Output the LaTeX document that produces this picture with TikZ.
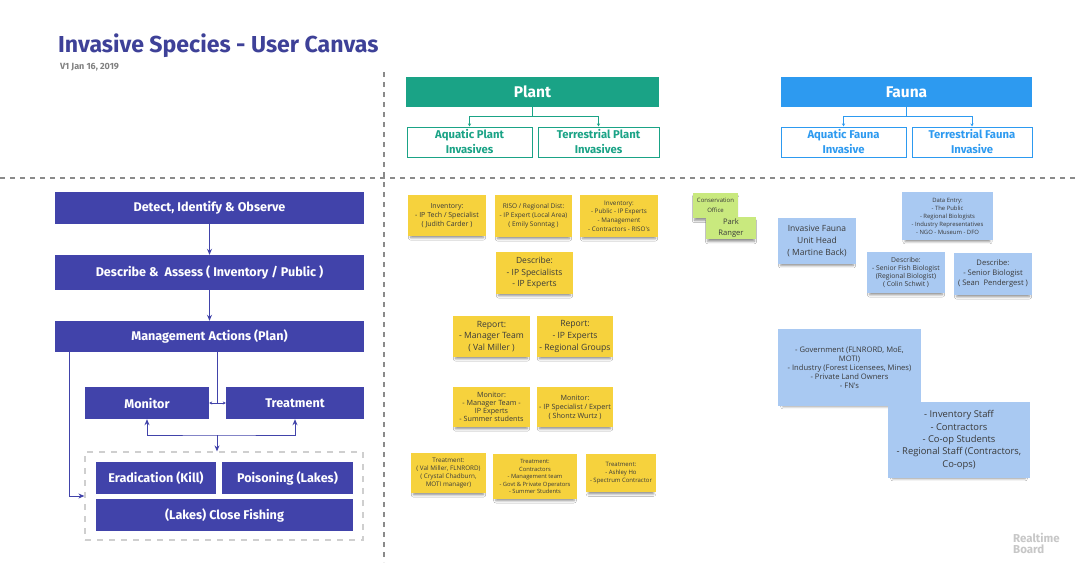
\documentclass[tikz,border=0pt]{standalone}
\usepackage{fontspec}
\setmainfont{Fira Sans}
\newfontfamily\stk{Open Sans}
\usetikzlibrary{arrows.meta,shadows.blur,calc}
\definecolor{indigo}{HTML}{4143AA}
\definecolor{titlec}{HTML}{3E4198}
\definecolor{tealc}{HTML}{1AA386}
\definecolor{faunac}{HTML}{2D9AF0}
\definecolor{stickyY}{HTML}{F6D23D}
\definecolor{stickyG}{HTML}{C9E97E}
\definecolor{stickyB}{HTML}{A9C9F2}
\definecolor{stktext}{HTML}{3A3A3A}
\definecolor{dashc}{HTML}{8A8A8A}
\definecolor{dboxc}{HTML}{CFCFCF}
\tikzset{
  fsz/.style 2 args={font=\fontsize{#1}{#2}\selectfont\bfseries},
  flowbox/.style={rectangle, fill=indigo, text=white, inner sep=0pt, align=center},
  headbox/.style={rectangle, fill=#1, text=white, inner sep=0pt, align=center, minimum height=30pt},
  subbox/.style={rectangle, draw=#1, line width=1pt, fill=white, text=#1, inner sep=0pt, align=center, minimum height=30pt},
  sticky/.style={rectangle, fill=#1, text=stktext, inner sep=1pt, align=center,
     blur shadow={shadow xshift=0pt, shadow yshift=-3.5pt, shadow scale=0.93, shadow blur radius=2.5pt, shadow opacity=45}},
  stf/.style 2 args={font=\stk\fontsize{#1}{#2}\selectfont},
  flowline/.style={draw=indigo, line width=1pt},
  tip/.style={-{Stealth[length=6pt,width=5pt]}},
  smalltip/.style={-{Stealth[length=3pt,width=3pt]}},
  divider/.style={draw=dashc, line width=1.1pt, dash pattern=on 5pt off 5pt},
}
\begin{document}
\begin{tikzpicture}[x=1pt,y=-1pt]
\useasboundingbox[fill=white] (0,0) rectangle (1080,570);

% title
\node[anchor=base west, inner sep=0pt, text=titlec, font=\fontsize{23.1}{25}\selectfont\bfseries] (title) at (58,52) {Invasive Species - User Canvas};
\node[anchor=base west, inner sep=0pt, text=gray, font=\fontsize{9}{10}\selectfont\bfseries] (ver) at (60,69) {V1 Jan 16, 2019};

% dividers
\coordinate (vt) at (384,72);
\coordinate (vb) at (384,562);
\coordinate (hl) at (0,178);
\coordinate (hr) at (1080,178);
\draw[divider] (vt) -- (vb);
\draw[divider] (hl) -- (hr);

% plant
\node[headbox=tealc, minimum width=253pt, fsz={15.5}{17}] (plant) at (532.5,92) {Plant};
\node[subbox=tealc, minimum width=125pt, fsz={11.3}{15}] (aqp) at (469.5,142) {Aquatic Plant\\Invasives};
\node[subbox=tealc, minimum width=121pt, fsz={11.3}{15}] (terp) at (598.5,142) {Terrestrial Plant\\Invasives};
\coordinate (pj) at (532.5,116);
\draw[draw=tealc, line width=1pt] (plant.south) -- (pj);
\draw[draw=tealc, line width=1pt, smalltip] (pj) -| (aqp.north);
\draw[draw=tealc, line width=1pt, smalltip] (pj) -| (terp.north);

% fauna
\node[headbox=faunac, minimum width=251pt, fsz={15.5}{17}] (fauna) at (906.5,92) {Fauna};
\node[subbox=faunac, minimum width=125pt, fsz={11.3}{15}] (aqf) at (843.5,142) {Aquatic Fauna\\Invasive};
\node[subbox=faunac, minimum width=120pt, fsz={11.3}{15}] (terf) at (972,142) {Terrestrial Fauna\\Invasive};
\coordinate (fj) at (906.5,116);
\draw[draw=faunac, line width=1pt] (fauna.south) -- (fj);
\draw[draw=faunac, line width=1pt, smalltip] (fj) -| (aqf.north);
\draw[draw=faunac, line width=1pt, smalltip] (fj) -| (terf.north);

% left flow
\node[flowbox, minimum width=309pt, minimum height=32pt, fsz={12.6}{14}] (detect) at (209.5,208) {Detect, Identify \& Observe};
\node[flowbox, minimum width=309pt, minimum height=35pt, fsz={12.6}{14}] (describe) at (209.5,272.5) {Describe \&\ \ Assess ( Inventory / Public )};
\node[flowbox, minimum width=309pt, minimum height=31pt, fsz={12.6}{14}] (mgmt) at (209.5,336.5) {Management Actions (Plan)};
\node[flowbox, minimum width=124pt, minimum height=32pt, fsz={12.6}{14}] (monitor) at (147,403) {Monitor};
\node[flowbox, minimum width=138pt, minimum height=32pt, fsz={12.6}{14}] (treat) at (295,403) {Treatment};
\node[rectangle, draw=dboxc, line width=1.2pt, dash pattern=on 6pt off 6pt, minimum width=278pt, minimum height=88pt, inner sep=0pt] (dbox) at (224,496) {};
\node[flowbox, minimum width=120pt, minimum height=32pt, fsz={12.6}{14}] (erad) at (156,478) {Eradication (Kill)};
\node[flowbox, minimum width=131pt, minimum height=32pt, fsz={12.6}{14}] (pois) at (287.5,478) {Poisoning (Lakes)};
\node[flowbox, minimum width=257pt, minimum height=32pt, fsz={12.6}{14}] (close) at (224.5,515) {(Lakes) Close Fishing};

\draw[flowline, tip] (detect) -- (describe);
\draw[flowline, tip] (describe) -- (mgmt);
\coordinate (mj) at (217,403);
\draw[flowline] (mj |- mgmt.south) -- (mj);
\draw[flowline, smalltip] (mj) -- (monitor.east);
\draw[flowline, smalltip] (mj) -- (treat.west);
\coordinate (lc) at (69,496);
\draw[flowline, tip] (lc |- mgmt.south) -- (lc) -- (dbox.west |- lc);
\coordinate (bj) at (217,435);
\draw[flowline, {Stealth[length=6pt,width=5pt]}-{Stealth[length=6pt,width=5pt]}] (monitor.south) |- (bj) -| (treat.south);
\draw[flowline, tip] (bj) -- (bj |- dbox.north);

% yellow stickies
\node[sticky=stickyY, minimum width=78pt, minimum height=41pt, stf={7}{9}] (s1) at (447,215.5) {Inventory:\\- IP Tech / Specialist\\( Judith Carder )};
\node[sticky=stickyY, minimum width=77pt, minimum height=42pt, stf={6.5}{9.3}] (s2) at (533.5,216) {RISO / Regional Dist:\\- IP Expert (Local Area)\\( Emily Sonntag )};
\node[sticky=stickyY, minimum width=78pt, minimum height=42pt, stf={6.3}{8.8}] (s3) at (619,216) {Inventory:\\- Public - IP Experts\\- Management\\- Contractors - RISO's};
\node[sticky=stickyY, minimum width=77pt, minimum height=42pt, stf={8.5}{11.7}] (s4) at (534.5,273) {Describe:\\- IP Specialists\\- IP Experts};
\node[sticky=stickyY, minimum width=77pt, minimum height=41pt, stf={8.6}{11.7}] (r1) at (491.5,336.5) {Report:\\- Manager Team\\( Val Miller )};
\node[sticky=stickyY, minimum width=76pt, minimum height=41pt, stf={8.6}{11.7}] (r2) at (575,336.5) {Report:\\- IP Experts\\- Regional Groups};
\node[sticky=stickyY, minimum width=77pt, minimum height=40pt, stf={7.2}{7.8}] (m1) at (491.5,407) {Monitor:\\- Manager Team -\\IP Experts\\- Summer students};
\node[sticky=stickyY, minimum width=76pt, minimum height=40pt, stf={7.2}{9}] (m2) at (575,407) {Monitor:\\- IP Specialist / Expert\\( Shontz Wurtz )};
\node[sticky=stickyY, minimum width=75pt, minimum height=40pt, stf={6.3}{8}] (t1) at (448.5,473) {Treatment:\\( Val Miller, FLNRORD)\\( Crystal Chadburn,\\MOTI manager)};
\node[sticky=stickyY, minimum width=84pt, minimum height=45pt, stf={5.8}{7.5}] (t2) at (535,476.5) {Treatment:\\Contractors\\- Management team\\- Govt \& Private Operators\\- Summer Students};
\node[sticky=stickyY, minimum width=70pt, minimum height=38pt, stf={6}{8}] (t3) at (621,473) {Treatment:\\- Ashley Ho\\- Spectrum Contractor};

% green stickies
\node[sticky=stickyG, minimum width=45pt, minimum height=25pt, stf={6}{9.5}] (g1) at (715.5,205.5) {Conservation\\Office};
\node[sticky=stickyG, minimum width=50pt, minimum height=22pt, stf={7.6}{10.5}] (g2) at (731,228) {Park\\Ranger};

% blue stickies
\node[sticky=stickyB, minimum width=78pt, minimum height=46pt, stf={8.5}{11.7}] (b1) at (817,241) {Invasive Fauna\\Unit Head\\( Martine Back)};
\node[sticky=stickyB, minimum width=91pt, minimum height=48pt, stf={5.9}{8}] (de) at (947.5,216) {Data Entry:\\- The Public\\- Regional Biologists\\- Industry Representatives\\- NGO - Museum - DFO};
\node[sticky=stickyB, minimum width=78pt, minimum height=41pt, stf={6.8}{8.2}] (d1) at (906,272.5) {Describe:\\- Senior Fish Biologist\\(Regional Biologist)\\( Colin Schwit )};
\node[sticky=stickyB, minimum width=78pt, minimum height=42pt, stf={7.6}{10}] (d2) at (993,274) {Describe:\\- Senior Biologist\\( Sean\ \ Pendergest )};
\node[sticky=stickyB, minimum width=143pt, minimum height=77pt, stf={7.6}{8.9}] (gov) at (849.5,367.5) {- Government (FLNRORD, MoE,\\MOTI)\\- Industry (Forest Licensees, Mines)\\- Private Land Owners\\- FN's};
\node[sticky=stickyB, minimum width=142pt, minimum height=76pt, stf={9.4}{12.3}] (inv) at (959,440) {- Inventory Staff\\- Contractors\\- Co-op Students\\- Regional Staff (Contractors,\\Co-ops)};

% logo
\node[anchor=north west, inner sep=0pt, align=left, text=black!22, font=\fontsize{11.5}{11}\selectfont\bfseries] (logo) at (1013,533) {Realtime\\Board};
\end{tikzpicture}
\end{document}
